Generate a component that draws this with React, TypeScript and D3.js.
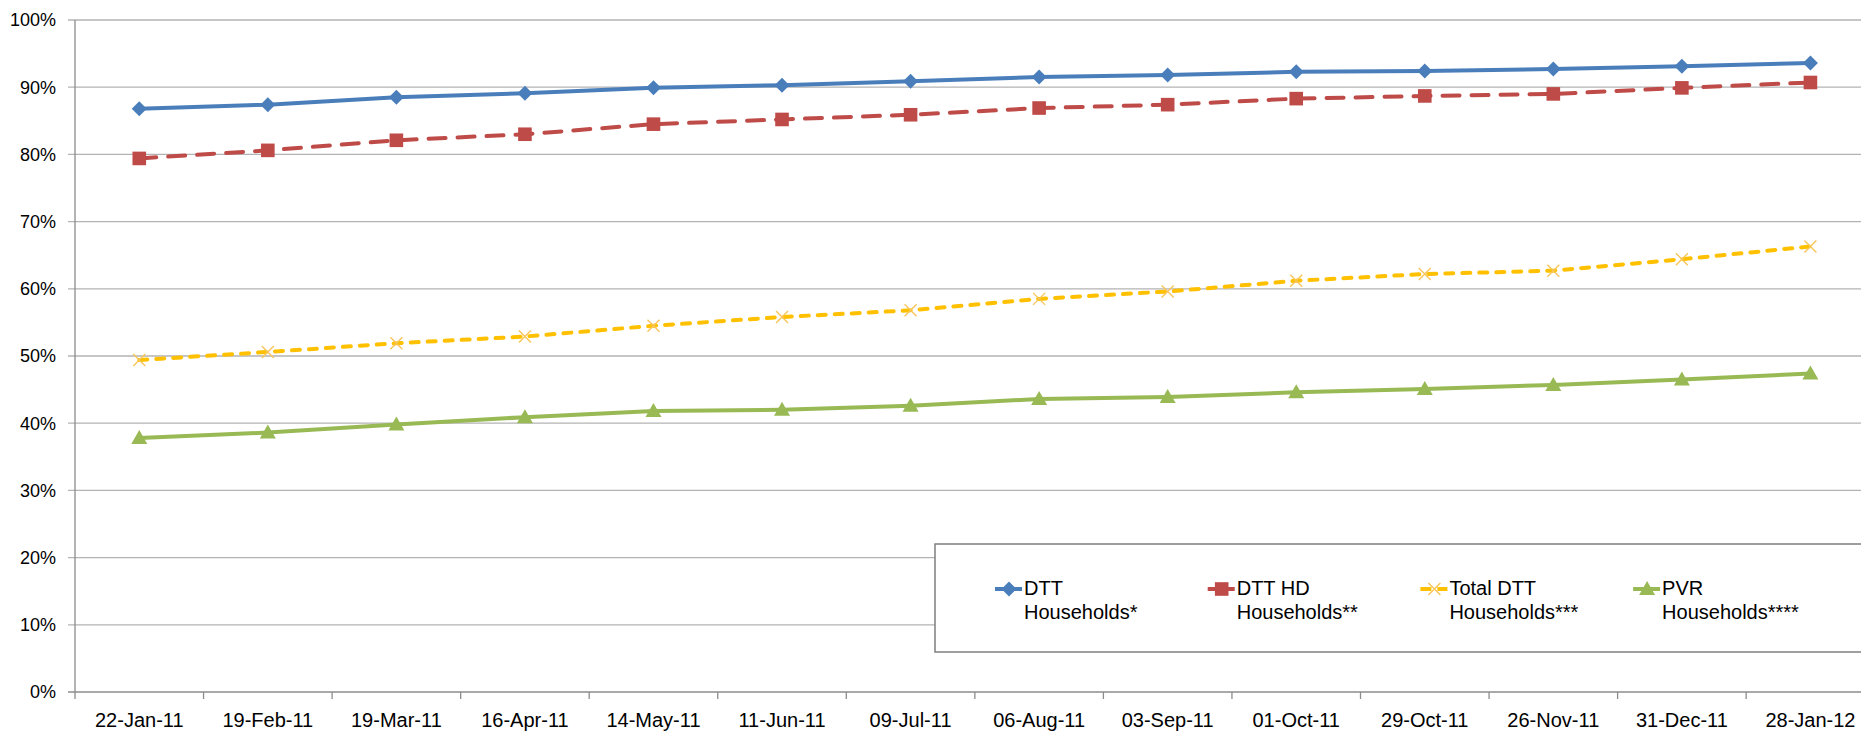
import React from "react";
import * as d3 from "d3";

const categories = ["22-Jan-11","19-Feb-11","19-Mar-11","16-Apr-11","14-May-11","11-Jun-11","09-Jul-11","06-Aug-11","03-Sep-11","01-Oct-11","29-Oct-11","26-Nov-11","31-Dec-11","28-Jan-12"];
const dtt = [86.8, 87.4, 88.5, 89.1, 89.9, 90.3, 90.9, 91.5, 91.8, 92.3, 92.4, 92.7, 93.1, 93.6];
const dttHd = [79.4, 80.6, 82.1, 83.0, 84.5, 85.2, 85.9, 86.9, 87.4, 88.3, 88.7, 89.0, 89.9, 90.7];
const totalDtt = [49.4, 50.6, 51.9, 52.9, 54.5, 55.8, 56.8, 58.5, 59.6, 61.2, 62.2, 62.7, 64.4, 66.3];
const pvr = [37.8, 38.6, 39.8, 40.9, 41.8, 42.0, 42.6, 43.6, 43.9, 44.6, 45.1, 45.7, 46.5, 47.4];
const yTicks = [0, 10, 20, 30, 40, 50, 60, 70, 80, 90, 100];
const legendLine1 = ["DTT", "DTT HD", "Total DTT", "PVR"];
const legendLine2 = ["Households*", "Households**", "Households***", "Households****"];

const W = 1861, H = 731;
const left = 75, top = 20, bottom = 692;
const band = 128.55;

type Series = { name: string; values: number[]; color: string; dash?: string; marker: string; markerColor: string };
const series: Series[] = [
  { name: "dtt", values: dtt, color: "#4A7EBB", marker: "diamond", markerColor: "#4A7EBB" },
  { name: "hd", values: dttHd, color: "#BE4B48", dash: "17 12", marker: "square", markerColor: "#BE4B48" },
  { name: "total", values: totalDtt, color: "#FFC000", dash: "8 9", marker: "x", markerColor: "#F7C55A" },
  { name: "pvr", values: pvr, color: "#98B954", marker: "triangle", markerColor: "#98B954" },
];

function Marker({ type, x, y, color }: { type: string; x: number; y: number; color: string }) {
  if (type === "diamond") {
    const r = 7.5;
    return <path d={`M${x},${y - r}L${x + r},${y}L${x},${y + r}L${x - r},${y}Z`} fill={color} />;
  }
  if (type === "square") {
    const r = 6.8;
    return <rect x={x - r} y={y - r} width={2 * r} height={2 * r} fill={color} />;
  }
  if (type === "triangle") {
    const r = 8;
    return <path d={`M${x},${y - r}L${x + r},${y + r * 0.75}L${x - r},${y + r * 0.75}Z`} fill={color} />;
  }
  const r = 6;
  return <path d={`M${x - r},${y - r}L${x + r},${y + r}M${x + r},${y - r}L${x - r},${y + r}`} stroke={color} strokeWidth={1.4} fill="none" />;
}

export default function App() {
  const x = d3.scaleBand<string>().domain(categories).range([left, left + band * categories.length]);
  const y = d3.scaleLinear().domain([0, 100]).range([bottom, top]);
  const cx = (c: string) => (x(c) as number) + x.bandwidth() / 2;
  const line = d3.line<number>().x((_, i) => cx(categories[i])).y((d) => y(d));
  const font = "'Liberation Sans', Arial, sans-serif";
  const legendText0 = 1024, legendStep = 212.7;

  return (
    <svg width={W} height={H} style={{ position: "absolute", left: 0, top: 0, background: "#fff" }}>
      <rect x={0} y={0} width={W} height={H} fill="#fff" />
      {yTicks.map((t) => (
        <g key={t}>
          {t > 0 && <line x1={left - 7} x2={W} y1={y(t)} y2={y(t)} stroke="#B3B3B3" strokeWidth={1.3} />}
          <text x={56} y={y(t)} dy="0.36em" textAnchor="end" fontFamily={font} fontSize={18} fill="#000">{t}%</text>
        </g>
      ))}
      <line x1={left} x2={left} y1={top} y2={bottom} stroke="#8C8C8C" strokeWidth={1.3} />
      <line x1={left - 7} x2={W} y1={bottom} y2={bottom} stroke="#8C8C8C" strokeWidth={1.3} />
      {categories.map((c) => (
        <g key={c}>
          <line x1={x(c) as number} x2={x(c) as number} y1={bottom} y2={bottom + 7} stroke="#8C8C8C" strokeWidth={1.3} />
          <text x={cx(c)} y={726.5} textAnchor="middle" fontFamily={font} fontSize={20} fill="#000">{c}</text>
        </g>
      ))}
      {series.map((s) => (
        <g key={s.name}>
          <path d={line(s.values) as string} fill="none" stroke={s.color} strokeWidth={4} strokeDasharray={s.dash} strokeLinecap={s.dash ? "round" : "butt"} strokeLinejoin="round" />
          {s.values.map((v, i) => (
            <Marker key={i} type={s.marker} x={cx(categories[i])} y={y(v)} color={s.markerColor} />
          ))}
        </g>
      ))}
      <rect x={935} y={544} width={940} height={108} fill="#fff" stroke="#7F7F7F" strokeWidth={1.5} />
      {series.map((s, i) => {
        const tx = legendText0 + i * legendStep;
        const lx = tx - 29;
        const ly = 589;
        return (
          <g key={s.name}>
            <line x1={lx} x2={lx + 27} y1={ly} y2={ly} stroke={s.color} strokeWidth={4} strokeDasharray={s.dash ? "11 6" : undefined} />
            <Marker type={s.marker} x={lx + 14} y={ly} color={s.markerColor} />
            <text x={tx} y={595} fontFamily={font} fontSize={20} fill="#000">{legendLine1[i]}</text>
            <text x={tx} y={618.5} fontFamily={font} fontSize={20} fill="#000">{legendLine2[i]}</text>
          </g>
        );
      })}
    </svg>
  );
}
